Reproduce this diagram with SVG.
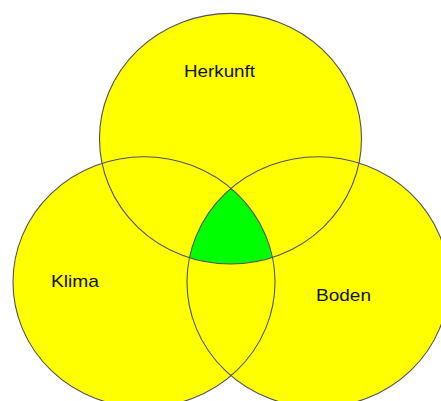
<svg xmlns="http://www.w3.org/2000/svg" xmlns:xlink="http://www.w3.org/1999/xlink" width="441" height="401" viewBox="0 0 441 401">
<style>
.fill{fill:#ffff00;stroke:none}
.outline{fill:none;stroke:#505060;stroke-width:1.1}
.lbl{font-family:"Liberation Sans",Arial,sans-serif;font-size:17px;fill:#111}
</style>
<defs>
<ellipse id="eTop" cx="230.5" cy="138.7" rx="131" ry="125.3"/>
<ellipse id="eLeft" cx="144" cy="282" rx="131" ry="125.3"/>
<ellipse id="eRight" cx="318" cy="282" rx="131" ry="125.3"/>
<clipPath id="cTop"><use xlink:href="#eTop"/></clipPath>
<clipPath id="cLeft"><use xlink:href="#eLeft"/></clipPath>
</defs>
<rect width="441" height="401" fill="#ffffff"/>
<g id="herkunft">
<use xlink:href="#eTop" class="fill"/>
<text class="lbl" x="184" y="77.3" textLength="71" lengthAdjust="spacingAndGlyphs">Herkunft</text>
</g>
<g id="klima">
<use xlink:href="#eLeft" class="fill"/>
<text class="lbl" x="51" y="286.7" textLength="48" lengthAdjust="spacingAndGlyphs">Klima</text>
</g>
<g id="boden">
<use xlink:href="#eRight" class="fill"/>
<text class="lbl" x="316" y="300.7" textLength="55" lengthAdjust="spacingAndGlyphs">Boden</text>
</g>
<g id="schnitt" clip-path="url(#cTop)">
<g clip-path="url(#cLeft)">
<use xlink:href="#eRight" fill="#00ff00"/>
</g>
</g>
<g id="umrisse">
<use xlink:href="#eTop" class="outline"/>
<use xlink:href="#eLeft" class="outline"/>
<use xlink:href="#eRight" class="outline"/>
</g>
</svg>
